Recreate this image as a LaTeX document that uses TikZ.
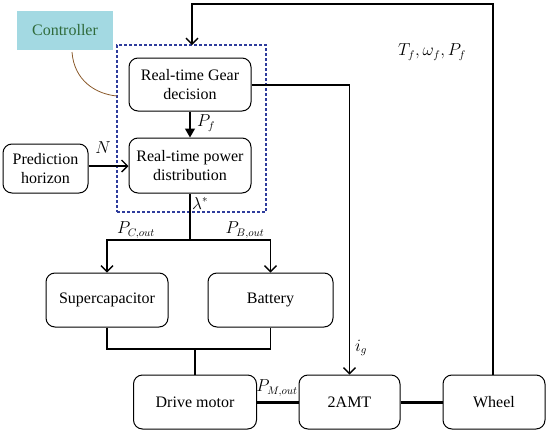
\documentclass[tikz,border=0pt]{standalone}
\usepackage{fontspec}
\setmainfont{Liberation Serif}
\usetikzlibrary{arrows.meta}
\definecolor{ctrlfill}{HTML}{A3D9E2}
\definecolor{ctrltext}{HTML}{2F6A3A}
\definecolor{dashblue}{HTML}{2E3C9C}
\definecolor{curvebrown}{HTML}{8B5A2B}
\tikzset{
  blk/.style={draw, rounded corners=9pt, line width=1pt, inner sep=0pt, font=\rmfamily\fontsize{16}{18.5}\selectfont, align=center},
  conn/.style={line width=1.3pt},
  thickconn/.style={line width=3pt},
  openarr/.style={-{Straight Barb[length=6pt,width=12pt,line width=1.3pt]}},
  fillarr/.style={-{Triangle[length=9pt,width=10pt]}},
  lbl/.style={font=\fontsize{16}{18}\selectfont, inner sep=0pt}
}
\begin{document}
\begin{tikzpicture}[x=1pt,y=-1pt]
\useasboundingbox (0,0) rectangle (550,434);
% controller label
\node[fill=ctrlfill, minimum width=96pt, minimum height=39pt, inner sep=0pt, text=ctrltext, font=\rmfamily\fontsize{16}{18}\selectfont] (ctrl) at (65,30.5) {Controller};
% dashed box
\node[draw=dashblue, line width=1.3pt, dash pattern=on 3pt off 2pt, minimum width=149pt, minimum height=167pt, inner sep=0pt] (dbox) at (191.5,128.5) {};
\coordinate (curvestart) at (72,52);
\coordinate (curveend) at (117,96);
\draw[curvebrown, line width=0.8pt] (curvestart) .. controls (74,80) and (95,94) .. (curveend);
% blocks
\node[blk, minimum width=122pt, minimum height=53pt] (gear) at (190,84.5) {Real-time Gear\\decision};
\node[blk, minimum width=122pt, minimum height=55pt] (pd) at (190,165.5) {Real-time power\\distribution};
\node[blk, minimum width=85pt, minimum height=49pt] (ph) at (45.5,168.5) {Prediction\\horizon};
\node[blk, minimum width=122pt, minimum height=54pt] (sc) at (107,300) {Supercapacitor};
\node[blk, minimum width=125pt, minimum height=54pt] (bat) at (270.5,300) {Battery};
\node[blk, minimum width=123pt, minimum height=54pt] (dm) at (195,402) {Drive motor};
\node[blk, minimum width=101pt, minimum height=54pt] (amt) at (349.5,402) {2AMT};
\node[blk, minimum width=102pt, minimum height=54pt] (wh) at (494,402) {Wheel};
% connectors
\draw[conn, fillarr] (gear.south) -- (pd.north);
\node[lbl, anchor=west] (pf) at (197,123) {$P_f$};
\draw[conn, openarr] (ph.east |- 0,166) -- (pd.west |- 0,166);
\node[lbl] (n) at (103,148) {$N$};
\coordinate (split) at (190,240);
\draw[conn] (pd.south) -- (split);
\node[lbl, anchor=west] (lam) at (192,203) {$\lambda^{*}$};
\draw[conn, openarr] (split) -| (sc.north);
\draw[conn, openarr] (split) -| (bat.north);
\node[lbl] (pc) at (136,230) {$P_{C,out}$};
\node[lbl] (pb) at (245,230) {$P_{B,out}$};
\coordinate (merge) at (195,349);
\draw[conn] (sc.south) |- (merge);
\draw[conn] (bat.south) |- (merge);
\draw[conn] (merge) -- (dm.north);
\draw[thickconn] (dm.east) -- (amt.west);
\draw[thickconn] (amt.east) -- (wh.west);
\node[lbl] (pm) at (277,388) {$P_{M,out}$};
\draw[conn, openarr] (gear.east |- 0,85) -| (amt.north);
\node[lbl] (ig) at (361,348) {$i_g$};
\coordinate (topright) at (493,4);
\draw[conn, openarr] (wh.north -| topright) |- (192,4) -- (192,45);
\node[lbl] (tw) at (432,52) {$T_f,\omega_f,P_f$};
\end{tikzpicture}
\end{document}
